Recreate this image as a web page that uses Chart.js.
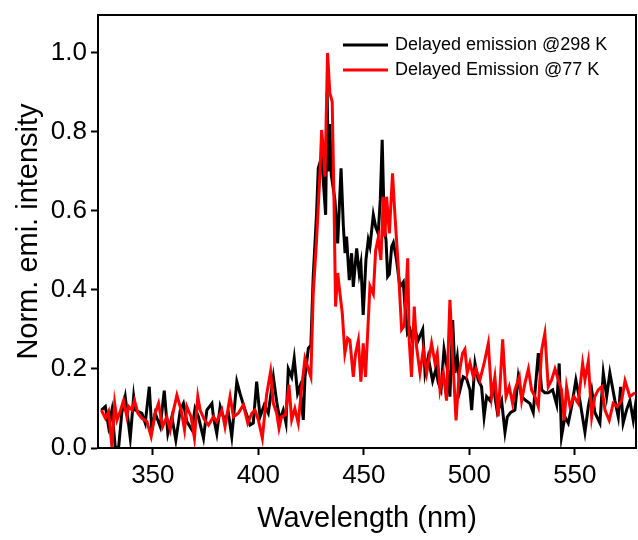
<!DOCTYPE html>
<html>
<head>
<meta charset="utf-8">
<script src="https://cdn.jsdelivr.net/npm/chart.js@4.4.0/dist/chart.umd.min.js"></script>
<style>
  html,body{margin:0;padding:0;background:#fff;}
  #wrap{width:638px;height:540px;position:relative;}
</style>
</head>
<body>
<div id="wrap"><canvas id="c"></canvas></div>
<script>
'use strict';
/* delayed emission spectra */
const wl298 = [325.6,327.5,329,330.6,332.2,333.8,335.3,336.9,339.3,340.9,341.7,344.8,346.4,348.3,349.5,351.1,353.5,355.4,357.1,359,
  360.9,363,364.5,366.1,368.5,370,371.6,374,375.6,378,378.7,380.3,381.9,383.9,385.8,387.4,389.8,391.3,393.7,396.1,
  397.6,399.2,400.8,402.8,404.7,407.1,408.7,410.2,411.8,413.1,414.2,415.8,417,418.6,419.7,421.3,422.1,423.7,424.9,426,
  427.6,428.4,430,431.9,432.6,433.2,433.9,434.6,436.3,437.6,439.2,440.3,441.1,441.8,443.1,444.2,445,446.6,447.8,448.6,
  449.7,451,452.1,452.9,454.5,455.6,456.8,457.8,458.7,459.7,460.5,461.3,462.1,463.2,464,465.5,467.1,468.7,469.5,470.7,
  471.9,473,474.2,475.8,477.9,479,480.5,482.6,484.2,485.3,486.6,488,489.6,490.8,492.1,493.2,494.3,495.6,497.1,498.7,
  500.3,501.1,502.7,504.2,505.8,507,508.2,509.8,511.4,513.3,515.3,516.9,518,519.6,521.6,523.2,524.8,526.8,528.7,530.3,
  532.7,534.3,535.8,537.4,539.5,541.4,542.6,543.7,545.3,546.9,548.5,550.5,552.4,554.8,556.4,558,559.5,561.9,563.5,565.1,
  566.6,569,570.6,571.7,572.9,574.5,576.1,577.7,579.3];
const em298 = [0.096,0.105,0.054,0.096,0.0,0.003,0.09,0.13,0.025,0.13,0.096,0.088,0.063,0.155,0.046,0.088,0.054,0.145,0.037,0.079,
  0.02,0.096,0.113,0.067,0.046,0.10,0.079,0.025,0.096,0.113,0.079,0.037,0.105,0.071,0.088,0.029,0.168,0.138,0.096,0.058,
  0.063,0.168,0.079,0.109,0.088,0.18,0.117,0.071,0.096,0.063,0.20,0.18,0.227,0.138,0.155,0.071,0.18,0.252,0.26,0.434,
  0.594,0.708,0.737,0.59,0.90,0.70,0.82,0.69,0.628,0.518,0.708,0.56,0.493,0.535,0.425,0.493,0.408,0.505,0.442,0.467,
  0.337,0.476,0.527,0.51,0.59,0.56,0.543,0.628,0.78,0.56,0.527,0.434,0.44,0.51,0.52,0.476,0.408,0.42,0.358,0.29,
  0.30,0.273,0.30,0.273,0.30,0.19,0.23,0.17,0.2,0.165,0.147,0.25,0.2,0.13,0.324,0.19,0.23,0.147,0.18,0.175,
  0.147,0.096,0.214,0.172,0.155,0.079,0.13,0.12,0.155,0.09,0.12,0.04,0.079,0.09,0.096,0.18,0.13,0.12,0.113,0.09,
  0.24,0.147,0.14,0.14,0.147,0.11,0.214,0.029,0.079,0.063,0.105,0.172,0.12,0.04,0.105,0.147,0.09,0.063,0.19,0.13,
  0.19,0.12,0.079,0.155,0.063,0.096,0.12,0.07,0.13];

const wl77 = [325.6,327.5,329,330.6,331.9,333,334.5,336.1,337.7,338.5,340.1,341.3,342.9,344.8,347.2,349.2,351.1,352.7,354.6,356.6,
  358.2,359.8,361.4,363.4,365,366.1,368.1,369.7,371.3,372.4,374.5,376.4,378.7,380.3,382.7,384.2,386.6,388.2,390.5,392.9,
  395,396.9,398.4,400,401.9,403.9,405.8,407.1,408.7,409.8,411,412.9,414.5,415.8,417.3,418.9,420.5,422.1,423.7,424.9,
  426,427.6,429.2,430,430.8,431.6,432.8,433.9,435,435.8,436.6,437.6,438.7,439.8,441,442.3,443.4,445,446.1,447.4,
  448.6,449.7,450.8,452.9,454.5,455.6,456.8,458.1,459.2,460,460.8,462.1,463.6,464.7,466.3,467.9,469.2,470.8,471.5,472.6,
  473.9,475,476.6,478.2,479.8,482.1,483.7,484.8,486.1,487.7,489.2,490.8,492.1,493.7,495.2,496.8,497.9,499,500.3,501.9,
  503.1,505,507,509,510.6,512.1,513.7,515.8,517.4,518.9,520.5,521.6,523.7,524.8,526.4,528,529.5,531.1,532.7,534.3,
  535.8,537.4,539,540.6,542.2,543.7,545,546.1,547.7,549.6,551.6,553.7,554.8,556.4,558,559.5,561.1,562.7,564.3,566.3,
  568.2,570.1,572.2,573.8,576.1,578.5];
const em77 = [0.096,0.075,0.092,0.003,0.113,0.071,0.092,0.12,0.079,0.105,0.096,0.12,0.088,0.075,0.067,0.029,0.088,0.113,0.054,0.079,
  0.046,0.096,0.134,0.096,0.046,0.105,0.079,0.025,0.13,0.096,0.071,0.058,0.079,0.067,0.096,0.054,0.13,0.079,0.088,0.109,
  0.063,0.088,0.096,0.071,0.025,0.134,0.193,0.113,0.088,0.05,0.079,0.084,0.16,0.071,0.10,0.063,0.151,0.227,0.2,0.18,
  0.39,0.527,0.695,0.805,0.755,0.687,1.0,0.898,0.877,0.645,0.358,0.443,0.39,0.341,0.24,0.278,0.273,0.18,0.24,0.273,
  0.168,0.265,0.18,0.41,0.39,0.50,0.531,0.476,0.636,0.535,0.636,0.543,0.695,0.593,0.46,0.30,0.31,0.48,0.273,0.18,
  0.358,0.256,0.19,0.25,0.19,0.265,0.216,0.24,0.147,0.19,0.12,0.375,0.231,0.07,0.19,0.24,0.25,0.19,0.216,0.18,
  0.2,0.172,0.214,0.265,0.13,0.18,0.08,0.275,0.13,0.155,0.113,0.147,0.18,0.12,0.165,0.2,0.147,0.13,0.105,0.248,
  0.29,0.155,0.172,0.2,0.172,0.147,0.07,0.155,0.105,0.13,0.113,0.214,0.172,0.22,0.079,0.13,0.147,0.155,0.096,0.07,
  0.113,0.105,0.12,0.17,0.13,0.14];

const xTicks = [350,400,450,500,550];
const yTicks = [0,0.2,0.4,0.6,0.8,1.0];
const seriesNames = ['Delayed emission @298 K','Delayed Emission @77 K'];

const FONT = 'Arial, "Liberation Sans", sans-serif';

function pts(xs, ys){ return xs.map((x,i)=>({x, y:ys[i]})); }

/* black frame round the plot area */
const framePlugin = {
  id:'frame',
  afterDatasetsDraw(chart){
    const {ctx, chartArea:a} = chart;
    ctx.save();
    ctx.strokeStyle='#000'; ctx.lineWidth=2;
    ctx.strokeRect(a.left, a.top, a.right-a.left, a.bottom-a.top);
    ctx.restore();
  }
};

/* legend drawn inside the plot, top right */
const legendPlugin = {
  id:'inLegend',
  afterDraw(chart){
    const {ctx, chartArea:a} = chart;
    ctx.save();
    ctx.font = '18px '+FONT;
    ctx.textBaseline='middle';
    const rows=[chart.data.datasets[1], chart.data.datasets[0]];
    rows.forEach((ds,i)=>{
      const y = a.top + 30 + i*25;
      const x0 = a.left + 245;
      ctx.strokeStyle=ds.borderColor; ctx.lineWidth=3;
      ctx.beginPath(); ctx.moveTo(x0,y); ctx.lineTo(x0+45,y); ctx.stroke();
      ctx.fillStyle='#000';
      ctx.fillText(ds.label, x0+52, y);
    });
    ctx.restore();
  }
};

new Chart(document.getElementById('c'), {
  type:'line',
  data:{datasets:[
    {label:seriesNames[1], data:pts(wl77, em77), borderColor:'#ff0000', borderWidth:3, pointRadius:0, tension:0, order:0},
    {label:seriesNames[0], data:pts(wl298, em298), borderColor:'#000000', borderWidth:3, pointRadius:0, tension:0, order:1}
  ]},
  options:{
    responsive:true, maintainAspectRatio:false, animation:false,
    layout:{padding:{top:15, right:2, left:0, bottom:0}},
    plugins:{legend:{display:false}, tooltip:{enabled:false}},
    scales:{
      x:{type:'linear', min:324, max:579,
        afterBuildTicks:s=>{ s.ticks = xTicks.map(v=>({value:v})); },
        afterFit:s=>{ s.height = 92; s.paddingLeft = 0; s.paddingRight = 0; },
        grid:{drawOnChartArea:false, tickLength:7, tickWidth:2, color:'#000'},
        border:{display:true, color:'#000', width:2},
        ticks:{color:'#000', font:{family:FONT, size:26}, padding:5, maxRotation:0},
        title:{display:true, text:'Wavelength (nm)', color:'#000', font:{family:FONT, size:29}, padding:{top:8}}
      },
      y:{type:'linear', min:0, max:1.096,
        afterBuildTicks:s=>{ s.ticks = yTicks.map(v=>({value:v})); },
        afterFit:s=>{ s.width = 98; s.paddingTop = 0; s.paddingBottom = 0; },
        grid:{drawOnChartArea:false, tickLength:7, tickWidth:2, color:'#000'},
        border:{display:true, color:'#000', width:2},
        ticks:{color:'#000', font:{family:FONT, size:26}, padding:4, callback:v=>v.toFixed(1)},
        title:{display:true, text:'Norm. emi. intensity', color:'#000', font:{family:FONT, size:29}, padding:{bottom:2, top:12}}
      }
    }
  },
  plugins:[framePlugin, legendPlugin]
});
</script>
</body>
</html>
